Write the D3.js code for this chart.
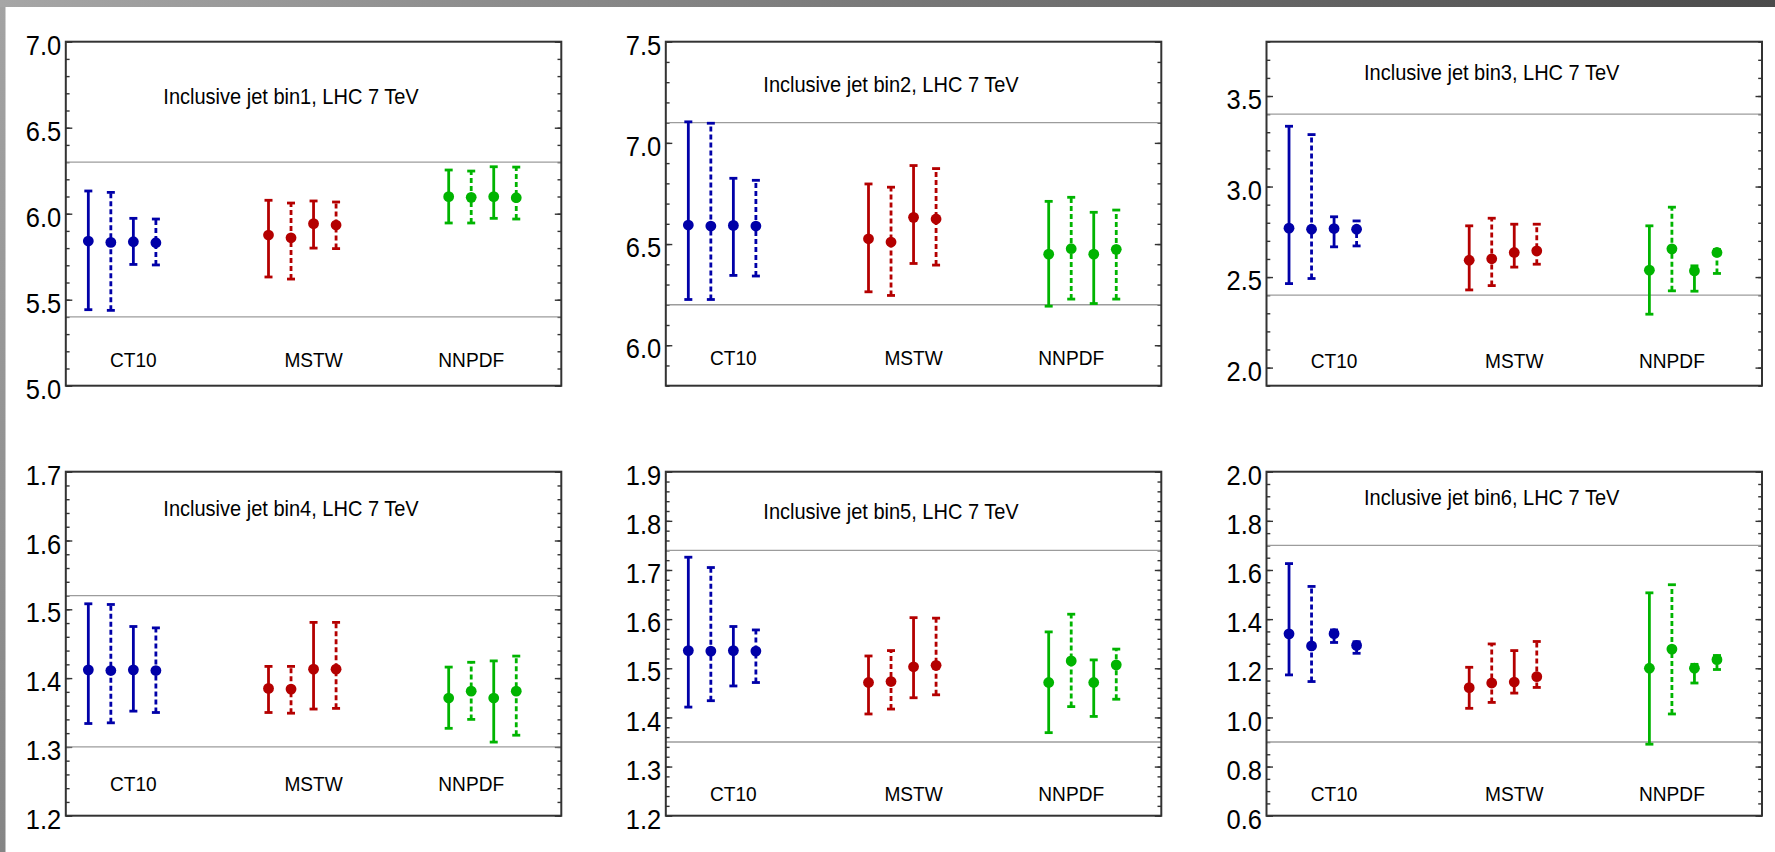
<!DOCTYPE html>
<html>
<head>
<meta charset="utf-8">
<script src="https://cdn.jsdelivr.net/npm/d3@7/dist/d3.min.js"></script>
<style>
body { margin: 0; background: #fff; }
svg { display: block; font-family: "Liberation Sans", Arial, sans-serif; }
</style>
</head>
<body>
<svg id="chart" width="1775" height="852"></svg>
<script>
// ---- data ----
var pdfNames = ["CT10", "MSTW", "NNPDF"];
var pdfColors = ["#0000a8", "#b40000", "#00b400"];
var titles = [
  "Inclusive jet bin1, LHC 7 TeV",
  "Inclusive jet bin2, LHC 7 TeV",
  "Inclusive jet bin3, LHC 7 TeV",
  "Inclusive jet bin4, LHC 7 TeV",
  "Inclusive jet bin5, LHC 7 TeV",
  "Inclusive jet bin6, LHC 7 TeV"
];
var yRanges = [[5.0, 7.0], [5.8, 7.5], [1.9, 3.8], [1.2, 1.7], [1.2, 1.9], [0.6, 2.0]];
var majorTicks = [
  [5.0, 5.5, 6.0, 6.5, 7.0],
  [6.0, 6.5, 7.0, 7.5],
  [2.0, 2.5, 3.0, 3.5],
  [1.2, 1.3, 1.4, 1.5, 1.6, 1.7],
  [1.2, 1.3, 1.4, 1.5, 1.6, 1.7, 1.8, 1.9],
  [0.6, 0.8, 1.0, 1.2, 1.4, 1.6, 1.8, 2.0]
];
var minorSteps = [0.1, 0.1, 0.1, 0.02, 0.02, 0.05];
// grey horizontal reference lines (data band)
var bands = [[5.4, 6.3], [6.2, 7.1], [2.4, 3.4], [1.30, 1.52], [1.35, 1.74], [0.9, 1.7]];

// 4 points per PDF set: solid, dashed, solid, dashed
var central = [
  [5.841, 5.833, 5.837, 5.831, 5.876, 5.860, 5.942, 5.934, 6.099, 6.095, 6.099, 6.093],
  [6.594, 6.589, 6.592, 6.589, 6.526, 6.510, 6.632, 6.624, 6.450, 6.477, 6.450, 6.474],
  [2.770, 2.764, 2.768, 2.764, 2.593, 2.601, 2.636, 2.645, 2.538, 2.656, 2.534, 2.636],
  [1.412, 1.411, 1.412, 1.411, 1.385, 1.384, 1.413, 1.413, 1.371, 1.381, 1.371, 1.381],
  [1.536, 1.535, 1.536, 1.535, 1.471, 1.473, 1.503, 1.506, 1.471, 1.515, 1.471, 1.507],
  [1.340, 1.291, 1.341, 1.293, 1.121, 1.140, 1.144, 1.166, 1.200, 1.278, 1.200, 1.235]
];
var upper = [
  [6.132, 6.124, 5.973, 5.969, 6.078, 6.062, 6.074, 6.068, 6.254, 6.248, 6.273, 6.271],
  [7.104, 7.097, 6.825, 6.815, 6.797, 6.781, 6.888, 6.873, 6.711, 6.731, 6.657, 6.668],
  [3.333, 3.287, 2.833, 2.810, 2.783, 2.825, 2.792, 2.792, 2.783, 2.886, 2.562, 2.652],
  [1.508, 1.507, 1.475, 1.473, 1.417, 1.417, 1.481, 1.481, 1.416, 1.423, 1.425, 1.432],
  [1.726, 1.705, 1.585, 1.578, 1.525, 1.536, 1.603, 1.602, 1.574, 1.610, 1.517, 1.539],
  [1.626, 1.533, 1.356, 1.308, 1.204, 1.299, 1.272, 1.309, 1.507, 1.540, 1.216, 1.252]
];
var lower = [
  [5.442, 5.438, 5.705, 5.702, 5.632, 5.620, 5.800, 5.797, 5.946, 5.946, 5.973, 5.969],
  [6.226, 6.226, 6.345, 6.342, 6.264, 6.246, 6.404, 6.396, 6.193, 6.228, 6.206, 6.228],
  [2.464, 2.492, 2.667, 2.672, 2.429, 2.453, 2.555, 2.571, 2.295, 2.424, 2.422, 2.520],
  [1.334, 1.335, 1.352, 1.350, 1.350, 1.349, 1.355, 1.356, 1.327, 1.340, 1.307, 1.317],
  [1.421, 1.434, 1.464, 1.471, 1.407, 1.417, 1.440, 1.446, 1.369, 1.422, 1.402, 1.437],
  [1.173, 1.146, 1.305, 1.261, 1.037, 1.061, 1.099, 1.122, 0.891, 1.014, 1.140, 1.195]
];

// where the texts sit, in plot units
var titleAt = [6.64, 7.25, 3.59, 1.636, 1.803, 1.864];
var labelAt = [5.11, 5.90, 2.00, 1.236, 1.23, 0.66];
var labelSlots = [3, 11, 18];

// ---- layout ----
var panelLeft = [65.8, 665.8, 1266.5];
var panelTop = [41.7, 471.7];
var W = 495.5, H = 344;
var squeeze = "scale(0.91,1)";   // the source font is a bit narrow

var svg = d3.select("#chart");

// grey window edges of the screenshot
var defs = svg.append("defs");
var grad = defs.append("linearGradient").attr("id", "topEdge")
  .attr("x1", "0%").attr("x2", "100%").attr("y1", "0%").attr("y2", "0%");
grad.append("stop").attr("offset", "0%").attr("stop-color", "#a6a6a6");
grad.append("stop").attr("offset", "100%").attr("stop-color", "#4b4b4b");
var grad2 = defs.append("linearGradient").attr("id", "leftEdge")
  .attr("x1", "0%").attr("x2", "0%").attr("y1", "0%").attr("y2", "100%");
grad2.append("stop").attr("offset", "0%").attr("stop-color", "#a3a3a3");
grad2.append("stop").attr("offset", "100%").attr("stop-color", "#858585");

svg.append("rect").attr("x", 0).attr("y", 0).attr("width", 1775).attr("height", 852).attr("fill", "#fff");
svg.append("rect").attr("x", 0).attr("y", 0).attr("width", 5.5).attr("height", 852).attr("fill", "url(#leftEdge)");
svg.append("rect").attr("x", 0).attr("y", 0).attr("width", 1775).attr("height", 7).attr("fill", "url(#topEdge)");

titles.forEach(function (title, p) {
  var col = p % 3, row = Math.floor(p / 3);
  var g = svg.append("g")
    .attr("transform", "translate(" + panelLeft[col] + "," + panelTop[row] + ")");

  var x = d3.scaleLinear().domain([0, 22]).range([0, W]);
  var y = d3.scaleLinear().domain(yRanges[p]).range([H, 0]);

  // minor ticks left + right
  var lo = yRanges[p][0], hi = yRanges[p][1], st = minorSteps[p];
  var minor = d3.range(Math.ceil(lo / st - 1e-6), Math.floor(hi / st + 1e-6) + 1).map(function (i) { return +(i * st).toFixed(4); });

  g.append("g").call(d3.axisLeft(y).tickValues(minor).tickSize(-3.8).tickFormat(""))
    .call(function (a) { a.select(".domain").remove(); });
  g.append("g").attr("transform", "translate(" + W + ",0)")
    .call(d3.axisRight(y).tickValues(minor).tickSize(-3.8).tickFormat(""))
    .call(function (a) { a.select(".domain").remove(); });

  // major ticks with labels on the left only
  var left = g.append("g")
    .call(d3.axisLeft(y).tickValues(majorTicks[p]).tickSize(-6.5).tickPadding(5).tickFormat(d3.format(".1f")));
  left.select(".domain").remove();
  left.selectAll("text")
    .attr("font-size", 28).attr("font-family", "'Liberation Sans', Arial, sans-serif")
    .attr("fill", "#000").attr("dy", "0.45em").attr("transform", squeeze);
  g.append("g").attr("transform", "translate(" + W + ",0)")
    .call(d3.axisRight(y).tickValues(majorTicks[p]).tickSize(-6.5).tickFormat(""))
    .call(function (a) { a.select(".domain").remove(); });
  g.selectAll(".tick line").attr("stroke", "#333").attr("stroke-width", 1.4);

  // grey band lines
  g.selectAll(".band").data(bands[p]).enter().append("line")
    .attr("x1", 0).attr("x2", W)
    .attr("y1", function (d) { return y(d); })
    .attr("y2", function (d) { return y(d); })
    .attr("stroke", "#9c9c9c").attr("stroke-width", 1.3);

  // frame
  g.append("rect").attr("width", W).attr("height", H)
    .attr("fill", "none").attr("stroke", "#333").attr("stroke-width", 2);

  // title
  g.append("g").attr("transform", "translate(" + x(10) + "," + y(titleAt[p]) + ")")
    .append("text").attr("transform", squeeze)
    .attr("text-anchor", "middle").attr("font-size", 22).attr("fill", "#000")
    .text(title);

  // PDF names
  pdfNames.forEach(function (name, k) {
    g.append("g").attr("transform", "translate(" + x(labelSlots[k]) + "," + y(labelAt[p]) + ")")
      .append("text").attr("transform", squeeze)
      .attr("text-anchor", "middle").attr("font-size", 21).attr("fill", "#000")
      .text(name);
  });

  // error bars
  var pts = central[p].map(function (c, i) {
    var grp = Math.floor(i / 4), m = i % 4;
    return { slot: grp * 8 + m + 1, mid: c, hi: upper[p][i], lo: lower[p][i], color: pdfColors[grp], dashed: m % 2 === 1 };
  });

  var bar = g.selectAll(".pt").data(pts).enter().append("g").attr("class", "pt");
  bar.append("line")
    .attr("x1", function (d) { return x(d.slot); })
    .attr("x2", function (d) { return x(d.slot); })
    .attr("y1", function (d) { return y(d.lo); })
    .attr("y2", function (d) { return y(d.hi); })
    .attr("stroke", function (d) { return d.color; })
    .attr("stroke-width", 2.8)
    .attr("stroke-dasharray", function (d) { return d.dashed ? "5,3" : null; });
  ["hi", "lo"].forEach(function (key) {
    bar.append("line")
      .attr("x1", function (d) { return x(d.slot) - 4; })
      .attr("x2", function (d) { return x(d.slot) + 4; })
      .attr("y1", function (d) { return y(d[key]); })
      .attr("y2", function (d) { return y(d[key]); })
      .attr("stroke", function (d) { return d.color; })
      .attr("stroke-width", 2.8);
  });
  bar.append("circle")
    .attr("cx", function (d) { return x(d.slot); })
    .attr("cy", function (d) { return y(d.mid); })
    .attr("r", 5.4)
    .attr("fill", function (d) { return d.color; });
});
</script>
</body>
</html>
